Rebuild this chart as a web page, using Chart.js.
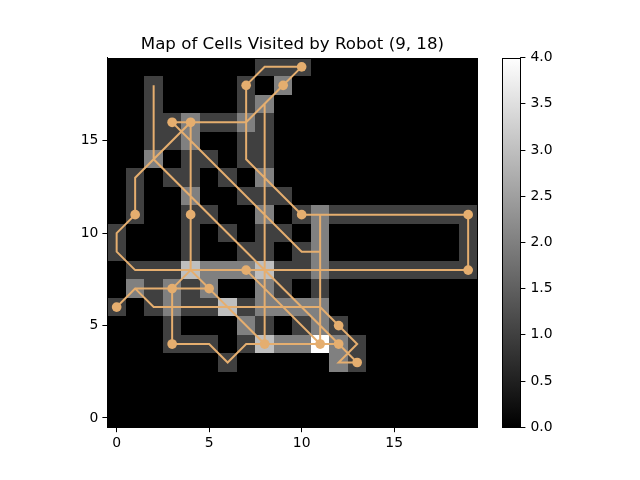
<!DOCTYPE html>
<html>
<head>
<meta charset="utf-8">
<title>Map of Cells Visited by Robot</title>
<script src="https://cdn.jsdelivr.net/npm/chart.js@4/dist/chart.umd.js"></script>
<style>
  html, body { margin: 0; padding: 0; background: #fff; }
  #wrap { position: relative; width: 640px; height: 480px; overflow: hidden; }
  #wrap canvas { position: absolute; left: 0; top: 0; display: block; }
</style>
</head>
<body>
<div id="wrap">
  <canvas id="map" width="640" height="480"></canvas>
  <canvas id="bar" width="640" height="480"></canvas>
</div>
<script>
const titleText = 'Map of Cells Visited by Robot (9, 18)';
const axisTicks = [0, 5, 10, 15];
const colorTicks = [0, 0.5, 1, 1.5, 2, 2.5, 3, 3.5, 4];

// visit counts, index is y (row 0 at the bottom), inner index is x
const visits = [
  [0,0,0,0,0,0,0,0,0,0,0,0,0,0,0,0,0,0,0,0],
  [0,0,0,0,0,0,0,0,0,0,0,0,0,0,0,0,0,0,0,0],
  [0,0,0,0,0,0,0,0,0,0,0,0,0,0,0,0,0,0,0,0],
  [0,0,0,0,0,0,1,0,0,0,0,0,2,1,0,0,0,0,0,0],
  [0,0,0,1,1,1,0,1,3,2,2,4,2,1,0,0,0,0,0,0],
  [0,0,0,1,0,0,0,2,1,0,1,2,1,0,0,0,0,0,0,0],
  [1,0,1,2,1,1,3,1,2,2,2,2,0,0,0,0,0,0,0,0],
  [0,2,1,2,1,2,0,0,2,1,0,1,0,0,0,0,0,0,0,0],
  [0,1,1,1,3,2,2,2,3,1,1,2,1,1,1,1,1,1,1,1],
  [1,0,0,0,1,0,0,1,1,0,1,2,0,0,0,0,0,0,0,1],
  [1,0,0,0,1,0,1,0,1,1,0,2,0,0,0,0,0,0,0,1],
  [0,1,0,0,1,1,0,0,2,0,1,2,1,1,1,1,1,1,1,1],
  [0,1,0,0,2,0,0,1,1,1,0,0,0,0,0,0,0,0,0,0],
  [0,1,0,1,1,0,1,0,2,0,0,0,0,0,0,0,0,0,0,0],
  [0,0,2,0,1,1,0,1,1,0,0,0,0,0,0,0,0,0,0,0],
  [0,0,1,1,2,0,0,1,1,0,0,0,0,0,0,0,0,0,0,0],
  [0,0,1,1,2,1,1,2,1,0,0,0,0,0,0,0,0,0,0,0],
  [0,0,1,0,0,0,0,1,2,0,0,0,0,0,0,0,0,0,0,0],
  [0,0,1,0,0,0,0,1,0,2,0,0,0,0,0,0,0,0,0,0],
  [0,0,0,0,0,0,0,0,1,1,1,0,0,0,0,0,0,0,0,0]
];

const pathX = [2,2,12,13,12,13,11,2,1,0,1,5,4,3,3,5,6,7,12,11,7,19,19,10,7,7,8,10,9,8,7,3,10,11,11,11,8,8,1,0,0,1,1,4,4,8,8];
const pathY = [18,14,4,3,3,4,6,6,7,6,7,7,8,7,4,4,3,4,4,4,8,8,11,11,14,18,19,19,18,17,16,16,9,9,11,4,4,8,8,9,10,11,13,16,8,4,17];

const stopX = [0,1,3,3,3,4,4,5,7,7,9,10,10,8,11,12,12,13,19,19];
const stopY = [6,11,4,7,16,16,11,7,18,8,18,19,11,4,4,4,5,3,11,8];

const font = 'DejaVu Sans';
const pathColor = '#e5ae6f';

// draws the visit counts as grey cells through the scales, edges rounded so no seams show
const cellsPlugin = {
  id: 'cells',
  beforeDatasetsDraw(chart) {
    const { ctx, scales: { x, y } } = chart;
    ctx.save();
    visits.forEach((row, r) => {
      row.forEach((v, c) => {
        const level = Math.round(v / 4 * 255);
        const left = Math.round(x.getPixelForValue(c - 0.5));
        const right = Math.round(x.getPixelForValue(c + 0.5));
        const top = Math.round(y.getPixelForValue(r + 0.5));
        const bottom = Math.round(y.getPixelForValue(r - 0.5));
        ctx.fillStyle = `rgb(${level},${level},${level})`;
        ctx.fillRect(left, top, right - left, bottom - top);
      });
    });
    ctx.restore();
  }
};

const framePlugin = {
  id: 'frame',
  afterDraw(chart) {
    const { ctx, chartArea: a } = chart;
    const left = Math.round(a.left), top = Math.round(a.top);
    ctx.save();
    ctx.strokeStyle = '#000';
    ctx.lineWidth = 1;
    ctx.strokeRect(left + 0.5, top + 0.5, Math.round(a.right) - left, Math.round(a.bottom) - top);
    ctx.restore();
  }
};

function setTicks(values) {
  return scale => { scale.ticks = values.map(value => ({ value })); };
}

new Chart(document.getElementById('map'), {
  type: 'scatter',
  data: {
    datasets: [
      {
        data: stopX.map((x, i) => ({ x, y: stopY[i] })),
        showLine: false,
        pointRadius: 4.85,
        pointBackgroundColor: pathColor,
        pointBorderWidth: 0
      },
      {
        data: pathX.map((x, i) => ({ x, y: pathY[i] })),
        showLine: true,
        tension: 0,
        borderColor: pathColor,
        borderWidth: 2,
        pointRadius: 0
      }
    ]
  },
  options: {
    responsive: false,
    animation: false,
    devicePixelRatio: 1,
    layout: { padding: { left: 0, right: 162.6, top: 0, bottom: 0 } },
    plugins: {
      legend: { display: false },
      tooltip: { enabled: false },
      title: {
        display: true,
        fullSize: false,
        text: titleText,
        color: '#000',
        font: { family: font, size: 16.67, weight: 'normal' },
        padding: { top: 35, bottom: 2.6 }
      }
    },
    scales: {
      x: {
        type: 'linear',
        min: -0.5,
        max: 19.5,
        afterBuildTicks: setTicks(axisTicks),
        afterFit(scale) { scale.height = 52.8; },
        grid: { drawOnChartArea: false, tickLength: 5, tickColor: '#000' },
        border: { color: '#000' },
        ticks: { color: '#000', font: { family: font, size: 13.9 }, padding: 3, maxRotation: 0 }
      },
      y: {
        type: 'linear',
        min: -0.5,
        max: 19.5,
        afterBuildTicks: setTicks(axisTicks),
        afterFit(scale) { scale.width = 107.4; },
        grid: { drawOnChartArea: false, tickLength: 5, tickColor: '#000' },
        border: { color: '#000' },
        ticks: { color: '#000', font: { family: font, size: 13.9 }, padding: 4 }
      }
    }
  },
  plugins: [cellsPlugin, framePlugin]
});

new Chart(document.getElementById('bar'), {
  type: 'bar',
  data: {
    labels: ['visits'],
    datasets: [{
      data: [[colorTicks[0], colorTicks[colorTicks.length - 1]]],
      barPercentage: 1,
      categoryPercentage: 1,
      borderWidth: 0,
      backgroundColor(context) {
        const area = context.chart.chartArea;
        if (!area) return '#808080';
        const g = context.chart.ctx.createLinearGradient(0, area.bottom, 0, area.top);
        g.addColorStop(0, '#000');
        g.addColorStop(1, '#fff');
        return g;
      }
    }]
  },
  options: {
    responsive: false,
    animation: false,
    devicePixelRatio: 1,
    layout: { padding: { left: 502.4, right: 0, top: 57.6, bottom: 52.8 } },
    plugins: { legend: { display: false }, tooltip: { enabled: false } },
    scales: {
      x: { display: false },
      y: {
        position: 'right',
        min: 0,
        max: 4,
        afterBuildTicks: setTicks(colorTicks),
        afterFit(scale) { scale.width = 119.6; },
        grid: { drawOnChartArea: false, tickLength: 5, tickColor: '#000' },
        border: { color: '#000' },
        ticks: {
          color: '#000',
          font: { family: font, size: 13.9 },
          padding: 5,
          callback: v => v.toFixed(1)
        }
      }
    }
  },
  plugins: [framePlugin]
});
</script>
</body>
</html>
